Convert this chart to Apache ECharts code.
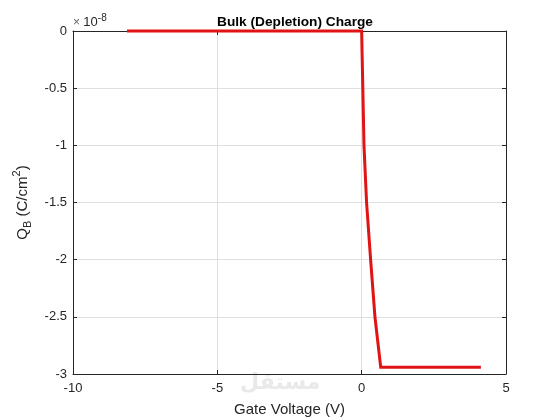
<!DOCTYPE html>
<html><head><meta charset="utf-8">
<script src="https://cdn.jsdelivr.net/npm/echarts@6/dist/echarts.min.js"></script>
<style>html,body{margin:0;padding:0;background:#fff}#c{width:560px;height:420px}</style>
</head><body><div id="c"></div>
<script>
// Gate voltage (V)
const gateVoltage = [-8.13, 0.0, 0.015, 0.04, 0.08, 0.17, 0.31, 0.46, 0.66, 4.13];
// Bulk charge Q_B in units of 1e-8 C/cm^2
const bulkCharge = [0, 0, -0.2, -0.5, -1.0, -1.5, -2.0, -2.5, -2.94, -2.94];
const xTicks = [-10, -5, 0, 5];
const yTicks = [0, -0.5, -1, -1.5, -2, -2.5, -3];

const font = 'Liberation Sans, Arial, sans-serif';
const axisColor = '#262626';
const chart = echarts.init(document.getElementById('c'));
const pts = gateVoltage.map((v, i) => [v, bulkCharge[i]]);
const fmt = v => String(v);
chart.setOption({
  animation: false,
  backgroundColor: '#fff',
  title: {
    text: 'Bulk (Depletion) Charge', left: 290, top: 10, textAlign: 'center',
    textStyle: {fontFamily: font, fontSize: 13.7, fontWeight: 'bold', color: '#000'}
  },
  grid: {left: 73, right: 54, top: 31, bottom: 46, containLabel: false, outerBoundsMode: 'none'},
  xAxis: [{
    type: 'value', min: -10, max: 5, interval: 5,
    name: 'Gate Voltage (V)', nameLocation: 'middle', nameGap: 28,
    nameTextStyle: {fontFamily: font, fontSize: 15, color: axisColor},
    axisLine: {show: true, onZero: false, lineStyle: {color: axisColor, width: 1}},
    axisTick: {show: true, inside: true, length: 4, lineStyle: {color: axisColor}},
    axisLabel: {fontFamily: font, fontSize: 13, color: axisColor, margin: 8, formatter: fmt},
    splitLine: {show: true, lineStyle: {color: '#dfdfdf', width: 1}}
  }, {
    type: 'value', position: 'top', min: -10, max: 5, interval: 5,
    axisLine: {show: true, onZero: false, lineStyle: {color: axisColor, width: 1}},
    axisTick: {show: true, inside: true, length: 4, lineStyle: {color: axisColor}},
    axisLabel: {show: false}, splitLine: {show: false}
  }],
  yAxis: [{
    type: 'value', min: -3, max: 0, interval: 0.5,
    name: '{a|Q}{b|B}{a| (C/cm}{c|2}{a|)}', nameLocation: 'middle', nameGap: 25, nameRotate: 90,
    nameTextStyle: {
      fontFamily: font, fontSize: 15, color: axisColor,
      rich: {
        a: {fontFamily: font, fontSize: 15, color: axisColor, lineHeight: 22, verticalAlign: 'middle'},
        b: {fontFamily: font, fontSize: 11, color: axisColor, verticalAlign: 'bottom', lineHeight: 12},
        c: {fontFamily: font, fontSize: 11, color: axisColor, verticalAlign: 'top', lineHeight: 12}
      }
    },
    axisLine: {show: true, onZero: false, lineStyle: {color: axisColor, width: 1}},
    axisTick: {show: true, inside: true, length: 4, lineStyle: {color: axisColor}},
    axisLabel: {fontFamily: font, fontSize: 13, color: axisColor, margin: 6, formatter: fmt},
    splitLine: {show: true, lineStyle: {color: '#dfdfdf', width: 1}}
  }, {
    type: 'value', position: 'right', min: -3, max: 0, interval: 0.5,
    axisLine: {show: true, onZero: false, lineStyle: {color: axisColor, width: 1}},
    axisTick: {show: true, inside: true, length: 4, lineStyle: {color: axisColor}},
    axisLabel: {show: false}, splitLine: {show: false}
  }],
  graphic: [{
    type: 'text', left: 73, top: 13,
    style: {
      text: '{m|× }{n|10}{s|-8}',
      rich: {
        m: {fontFamily: font, fontSize: 12, fill: '#666', lineHeight: 16, verticalAlign: 'bottom'},
        n: {fontFamily: font, fontSize: 13, fill: axisColor, lineHeight: 16, verticalAlign: 'bottom'},
        s: {fontFamily: font, fontSize: 10, fill: axisColor, verticalAlign: 'top', lineHeight: 10}
      }
    }
  }, {
    type: 'text', left: 240, top: 372, z: -1,
    style: {text: 'مستقل', fontFamily: 'DejaVu Sans, Noto Sans', fontSize: 22, fontWeight: 'bold', fill: '#e9e9e9'}
  }],
  series: [{
    type: 'line', data: pts, showSymbol: false, symbol: 'none',
    lineStyle: {color: '#e01414', width: 3, join: 'miter'}, clip: false
  }]
});
</script></body></html>
